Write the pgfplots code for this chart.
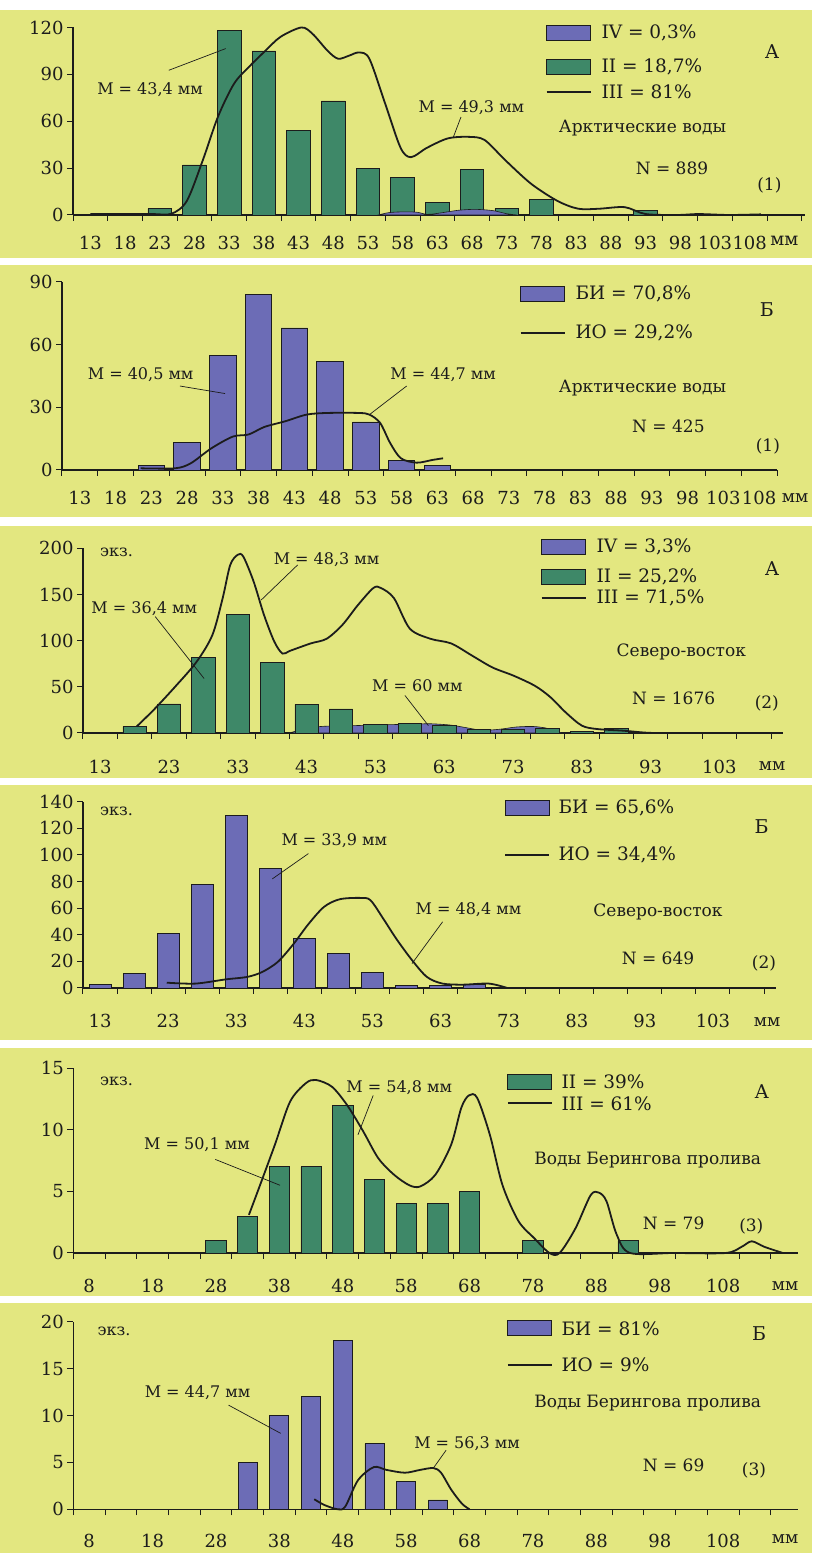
\documentclass[border=0pt]{standalone}
\usepackage{fontspec}
\setmainfont{DejaVu Serif}
\usepackage{pgfplots}
\pgfplotsset{compat=1.18}
\definecolor{bgy}{RGB}{227,231,128}
\definecolor{gbar}{RGB}{62,136,104}
\definecolor{pbar}{RGB}{108,108,182}
\definecolor{ink}{RGB}{28,28,28}
\newcommand\fs[1]{\fontsize{#1}{#1}\selectfont}
\pgfplotsset{panel/.style={
  scale only axis, clip=false, anchor=south west,
  axis x line=bottom, axis y line=left,
  axis line style={-, line width=1.1pt, ink},
  tick align=outside, major tick length=6pt,
  tick style={line width=1pt, ink},
  ymin=0, x tick label as interval,
  xticklabel style={font=\fs{18}, text=ink, yshift=-11.5pt},
  yticklabel style={font=\fs{18}, text=ink},
  /pgf/number format/assume math mode=true,
},
bars/.style={ybar, bar width=#1, fill=gbar, draw=ink, line width=0.8pt},
pbars/.style={ybar, bar width=#1, fill=pbar, draw=ink, line width=0.8pt},
curve/.style={smooth, mark=none, line width=1.8pt, ink},
}
\tikzset{lead/.style={ink, line width=0.7pt}, ann/.style={font=\fs{16}, text=ink},
  leg/.style={anchor=west, font=\fs{18.5}, text=ink}, lab/.style={font=\fs{17}, text=ink}}
\begin{document}
\begin{tikzpicture}[x=1pt,y=1pt]
\fill[white] (0,0) rectangle (812,1553);
\fill[bgy] (0,1295) rectangle (812,1543);
\fill[bgy] (0,1036) rectangle (812,1288);
\fill[bgy] (0,775) rectangle (812,1027);
\fill[bgy] (0,513) rectangle (812,768);
\fill[bgy] (0,257) rectangle (812,505);
\fill[bgy] (0,0) rectangle (812,250);

% ---------- Panel 1 ----------
\begin{axis}[panel, at={(73pt,1338pt)}, width=732.2pt, height=187.5pt,
  xmin=10.5, xmax=116, ymax=120, ytick={0,30,60,90,120},
  xtick={10.5,15.5,...,115.5},
  xticklabels={13,18,23,28,33,38,43,48,53,58,63,68,73,78,83,88,93,98,103,108,мм}]
\addplot[bars=3.4] coordinates {(23,4)(28,32)(33,118)(38,105)(43,54)(48,73)(53,30)(58,24)(63,8)(68,29)(73,4)(78,10)(93,3)};
\addplot[smooth, fill=pbar, draw=ink, line width=0.6pt] coordinates {(54.5,0)(56,1.5)(58,2)(60,1.8)(61.5,0.4)(63,1)(66,3)(68.5,3.6)(71,2.8)(73,0.8)(74.5,0)} \closedcycle;
\addplot[curve] coordinates {(13,0.6)(18,0.6)(22,0.6)(24.7,0.8)(26.9,9)(29.2,35)(31.4,63)(33.7,84)(35.9,95)(38.2,105)(40.4,114)(43.4,120)(45,116)(47.2,105)(48.7,100)(50.3,102)(51.7,104)(53.2,100)(55.5,71)(57.7,43)(59.2,37)(61.5,43)(64.5,49)(67.5,50)(69.8,48)(72.8,35)(76.5,20)(80.3,9)(83.3,4)(86.3,4)(90,5)(93,0.6)(97.6,0)(100.6,0.6)(105,0)(109.6,0.4)};
\node[ann] at (axis cs:21.6,80) {M = 43,4 мм};
\draw[lead] (axis cs:24.3,92.6) -- (axis cs:32.5,106.5);
\node[ann] at (axis cs:67.9,68.7) {M = 49,3 мм};
\draw[lead] (axis cs:65.3,49.8) -- (axis cs:66.4,62.7);
\end{axis}
\draw[fill=pbar, draw=ink, line width=0.8pt] (546.6,1512.2) rectangle (590.7,1527.2);
\draw[fill=gbar, draw=ink, line width=0.8pt] (546.6,1478.8) rectangle (590.7,1493.8);
\draw[line width=1.8pt, ink] (546.6,1461.3) -- (590.7,1461.3);
\node[leg] at (598,1519.7) {IV = 0,3\%};
\node[leg] at (598,1486.3) {II = 18,7\%};
\node[leg] at (598,1461.3) {III = 81\%};
\node[font=\fs{19}, text=ink] at (772,1501.3) {А};
\node[lab] at (642.5,1424.7) {Арктические воды};
\node[lab] at (672,1384.7) {N = 889};
\node[lab] at (769.4,1368) {(1)};

% ---------- Panel 2 ----------
\begin{axis}[panel, at={(62pt,1083pt)}, width=715pt, height=188pt,
  xmin=10.5, xmax=110.5, ymax=90, ytick={0,30,60,90},
  xtick={10.5,15.5,...,110.5},
  xticklabels={13,18,23,28,33,38,43,48,53,58,63,68,73,78,83,88,93,98,103,108},
  xticklabel style={yshift=-0.5pt}]
\addplot[pbars=3.7] coordinates {(23,2)(28,13)(33,55)(38,84)(43,68)(48,52)(53,23)(58,4.5)(63,2)};
\addplot[curve] coordinates {(21.5,0.8)(26.3,0.8)(28.5,3.2)(31.4,10.4)(34.4,16)(36.6,17)(38.8,20.6)(41.7,23.3)(44.7,26.5)(47.6,27.3)(52,27.3)(53.5,26.5)(55,22.5)(56.4,12.9)(57.9,5.6)(60.1,3.5)(62.3,4.8)(63.8,5.6)};
\node[ann] at (axis cs:21.5,45.8) {M = 40,5 мм};
\draw[lead] (axis cs:27,40.2) -- (axis cs:33.3,36.6);
\node[ann] at (axis cs:63.8,45.8) {M = 44,7 мм};
\draw[lead] (axis cs:58.7,40.2) -- (axis cs:53.5,26.5);
\end{axis}
\draw[fill=pbar, draw=ink, line width=0.8pt] (520.7,1251.2) rectangle (564.8,1266.2);
\draw[line width=1.8pt, ink] (520.7,1219.7) -- (564.8,1219.7);
\node[leg] at (572,1258.7) {БИ = 70,8\%};
\node[leg] at (572,1219.7) {ИО = 29,2\%};
\node[font=\fs{19}, text=ink] at (766.8,1243) {Б};
\node[lab] at (642.5,1165.3) {Арктические воды};
\node[lab] at (668.4,1126.3) {N = 425};
\node[lab] at (767.9,1106.3) {(1)};
\node[lab] at (795,1055) {мм};

% ---------- Panel 3 ----------
\begin{axis}[panel, at={(83pt,820pt)}, width=700.4pt, height=184.7pt,
  xmin=10.5, xmax=112.3, ymax=200, ytick={0,50,...,200},
  xtick={10.5,15.5,...,110.5},
  xticklabels={13,,23,,33,,43,,53,,63,,73,,83,,93,,103},
  xticklabel style={yshift=-6.5pt}]
\addplot[smooth, fill=pbar, draw=ink, line width=0.6pt] coordinates {(40.5,0)(42,3)(45,7)(50,8)(55,9)(58,9.5)(61,10)(64,8.5)(66,6)(68.5,3)(71,4)(73.5,6.5)(76,7)(78,5)(80,0)} \closedcycle;
\addplot[bars=3.4] coordinates {(18,7)(23,31.5)(28,82)(33,128)(38,76)(43,31)(48,26)(53,9)(58,10)(63,8)(68,3.6)(73,4.3)(78,4.7)(83,1.8)(88,4.7)(98,1)};
\addplot[curve] coordinates {(18.3,7)(20.9,26)(24,51)(27,77)(29.3,106)(30.8,146)(31.9,182)(33,193)(33.8,191)(35.3,164)(36.8,128)(38.3,99)(39.5,86)(40.6,89)(43.6,97)(45.9,102)(48.2,117)(50.4,138)(52.7,157)(53.8,157)(55.7,146)(58,113)(61,102)(64,97)(67,84)(70,71)(73.1,62)(76.2,51)(78.4,39)(80.7,22)(83,8)(85.2,4.3)(89,2.5)(92,0.5)(93.5,0)};
\node[ann] at (axis cs:45.9,188) {M = 48,3 мм};
\draw[lead] (axis cs:41.7,182) -- (axis cs:36.4,144);
\node[ann] at (axis cs:19.4,135) {M = 36,4 мм};
\draw[lead] (axis cs:21,126) -- (axis cs:28.1,59);
\node[ann] at (axis cs:59.1,51) {M = 60 мм};
\draw[lead] (axis cs:57.3,40.6) -- (axis cs:60.7,8);
\end{axis}
\draw[fill=pbar, draw=ink, line width=0.8pt] (541.5,998.2) rectangle (585.5,1013.2);
\draw[fill=gbar, draw=ink, line width=0.8pt] (541.5,968.8) rectangle (585.5,983.8);
\draw[line width=1.8pt, ink] (541.5,954.7) -- (585.5,954.7);
\node[leg] at (593,1005.7) {IV = 3,3\%};
\node[leg] at (593,976.3) {II = 25,2\%};
\node[leg] at (593,954.7) {III = 71,5\%};
\node[font=\fs{19}, text=ink] at (772,984.7) {А};
\node[lab] at (681.3,901.3) {Северо-восток};
\node[lab] at (673.6,854.7) {N = 1676};
\node[lab] at (766.8,849.7) {(2)};
\node[font=\fs{16}, text=ink] at (116.6,1000.7) {экз.};
\node[lab] at (772,787) {мм};

% ---------- Panel 4 ----------
\begin{axis}[panel, at={(83pt,565pt)}, width=693.3pt, height=186.3pt,
  xmin=10.5, xmax=112.3, ymax=140, ytick={0,20,...,140},
  xtick={10.5,15.5,...,110.5},
  xticklabels={13,,23,,33,,43,,53,,63,,73,,83,,93,,103},
  xticklabel style={yshift=-5.5pt}]
\addplot[pbars=3.2] coordinates {(13,3)(18,11)(23,41)(28,78)(33,130)(38,90)(43,37)(48,26)(53,11.5)(58,2)(63,2)(68,3)};
\addplot[curve] coordinates {(22.8,4)(27,3.3)(31.5,6.5)(34.6,8.3)(36.8,12)(39.1,19.6)(41.4,33)(43.6,48)(45.9,61)(48.2,66.7)(51.2,67.7)(52.7,66)(54.6,52)(56.5,37)(58.8,21)(61,8.3)(63.3,3.3)(66.3,2.5)(70.1,3.3)(72.8,0)};
\node[ann] at (axis cs:47.4,111) {M = 33,9 мм};
\draw[lead] (axis cs:43.6,101) -- (axis cs:38.3,82);
\node[ann] at (axis cs:67.1,58.5) {M = 48,4 мм};
\draw[lead] (axis cs:63.3,49.7) -- (axis cs:58.8,18.3);
\end{axis}
\draw[fill=pbar, draw=ink, line width=0.8pt] (505,737.2) rectangle (549,752.2);
\draw[line width=1.8pt, ink] (505,698) -- (549,698);
\node[leg] at (555,744.7) {БИ = 65,6\%};
\node[leg] at (555,698) {ИО = 34,4\%};
\node[font=\fs{19}, text=ink] at (761.7,726.3) {Б};
\node[lab] at (658,641.3) {Северо-восток};
\node[lab] at (658,594.7) {N = 649};
\node[lab] at (764,589.7) {(2)};
\node[font=\fs{16}, text=ink] at (116.6,741.3) {экз.};
\node[lab] at (767,531) {мм};

% ---------- Panel 5 ----------
\begin{axis}[panel, at={(73.3pt,300pt)}, width=724.7pt, height=184.7pt,
  xmin=5.5, xmax=119.8, ymax=15, ytick={0,5,10,15},
  xtick={5.5,10.5,...,115.5},
  xticklabels={8,,18,,28,,38,,48,,58,,68,,78,,88,,98,,108},
  xticklabel style={yshift=-5.5pt}]
\addplot[bars=3.2] coordinates {(28,1)(33,3)(38,7)(43,7)(48,12)(53,6)(58,4)(63,4)(68,5)(78,1)(93,1)};
\addplot[curve] coordinates {(33.2,3.1)(34.8,5.3)(37.3,8.8)(39.7,12.3)(42.2,13.8)(43.8,14.05)(46.3,13.5)(48.7,12)(51.2,9.9)(53.6,7.7)(56.1,6.35)(58.5,5.5)(60.2,5.4)(62.6,6.35)(65.1,8.8)(66.7,11.8)(67.9,12.8)(69.2,12.6)(71.2,9.6)(73.2,5.5)(75.7,2.6)(78.2,1.2)(80.6,0)(82.2,0)(84.7,2)(87.1,4.7)(88.4,4.9)(89.6,4.2)(91.2,1.5)(93.3,0)(100.2,0)(108.4,0)(110.9,0.5)(112.5,0.95)(114.5,0.5)(117.4,0)};
\node[ann] at (axis cs:56.9,13.4) {M = 54,8 мм};
\draw[lead] (axis cs:52.8,12.8) -- (axis cs:50.4,9.6);
\node[ann] at (axis cs:25,8.8) {M = 50,1 мм};
\draw[lead] (axis cs:27.9,7.6) -- (axis cs:38.1,5.5);
\end{axis}
\draw[fill=gbar, draw=ink, line width=0.8pt] (507.8,463.8) rectangle (551.8,478.8);
\draw[line width=1.8pt, ink] (507.8,449.7) -- (551.8,449.7);
\node[leg] at (558,471.3) {II = 39\%};
\node[leg] at (558,449.7) {III = 61\%};
\node[font=\fs{19}, text=ink] at (761.7,461.3) {А};
\node[lab] at (647.7,393) {Воды Берингова пролива};
\node[lab] at (673.6,329.7) {N = 79};
\node[lab] at (751.3,326.3) {(3)};
\node[font=\fs{16}, text=ink] at (116.6,471.3) {экз.};
\node[lab] at (785,267) {мм};

% ---------- Panel 6 ----------
\begin{axis}[panel, at={(73.3pt,43.7pt)}, width=724.7pt, height=187.6pt,
  xmin=5.5, xmax=119.8, ymax=20, ytick={0,5,10,15,20},
  xtick={5.5,10.5,...,115.5},
  xticklabels={8,,18,,28,,38,,48,,58,,68,,78,,88,,98,,108},
  xticklabel style={yshift=-3.5pt}]
\addplot[pbars=3.0] coordinates {(33,5)(38,10)(43,12)(48,18)(53,7)(58,3)(63,1)};
\addplot[curve] coordinates {(43.5,1.07)(45.1,0.46)(47.2,0)(48.4,0.3)(50.4,3.1)(52.9,4.5)(54.9,4.2)(57.8,3.9)(60.2,4.2)(62.3,4.4)(63.5,3.9)(65.1,2.1)(66.8,0.6)(68,0)};
\node[ann] at (axis cs:25.1,12.4) {M = 44,7 мм};
\draw[lead] (axis cs:30,11.1) -- (axis cs:38.2,8.1);
\node[ann] at (axis cs:67.6,7) {M = 56,3 мм};
\draw[lead] (axis cs:64.3,6.3) -- (axis cs:62.3,4.4);
\end{axis}
\draw[fill=pbar, draw=ink, line width=0.8pt] (507.8,217.2) rectangle (551.8,232.2);
\draw[line width=1.8pt, ink] (507.8,188) -- (551.8,188);
\node[leg] at (558,224.7) {БИ = 81\%};
\node[leg] at (558,188) {ИО = 9\%};
\node[font=\fs{19}, text=ink] at (759,219.7) {Б};
\node[lab] at (647.7,149.7) {Воды Берингова пролива};
\node[lab] at (673.6,88) {N = 69};
\node[lab] at (754,83) {(3)};
\node[font=\fs{16}, text=ink] at (114,221.3) {экз.};
\node[lab] at (785,14) {мм};
\end{tikzpicture}
\end{document}
